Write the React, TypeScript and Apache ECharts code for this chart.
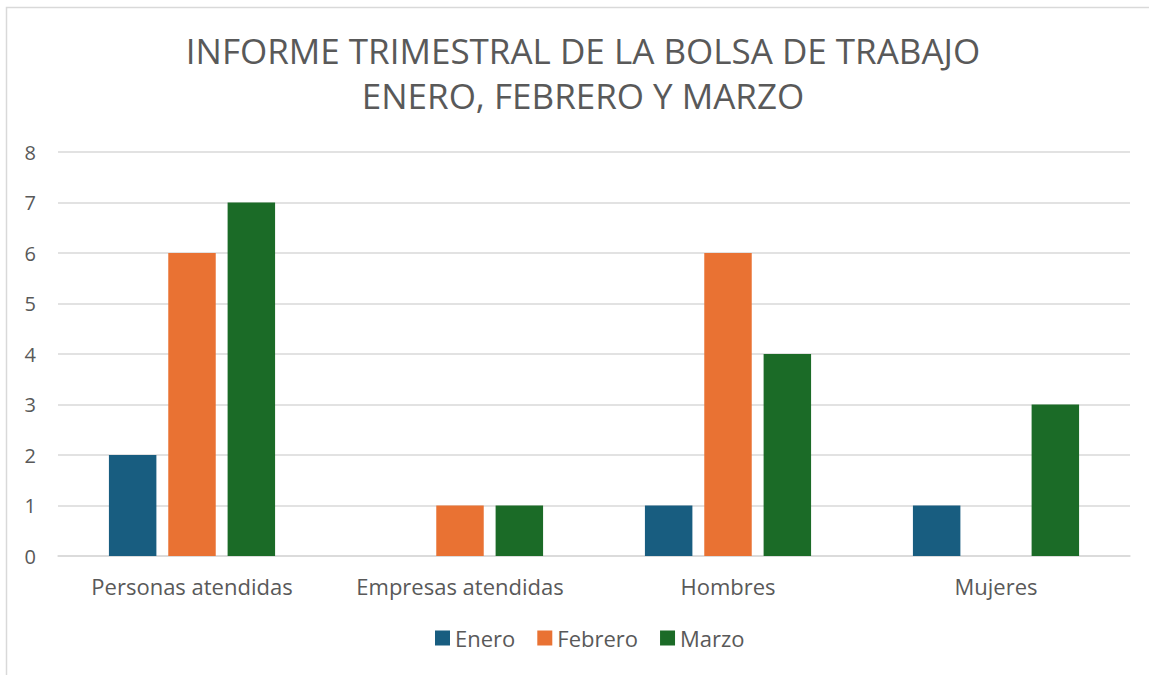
import React, { useEffect, useRef } from "react";
import * as echarts from "echarts";

const categories = ["Personas atendidas", "Empresas atendidas", "Hombres", "Mujeres"];
const seriesNames = ["Enero", "Febrero", "Marzo"];
const enero = [2, null, 1, 1];
const febrero = [6, 1, 6, null];
const marzo = [7, 1, 4, 3];
const colors = ["#185d80", "#e97233", "#1b6b27"];
const yTicks = [0, 1, 2, 3, 4, 5, 6, 7, 8];

export default function App() {
  const ref = useRef<HTMLDivElement>(null);
  useEffect(() => {
    const chart = echarts.init(ref.current!, null, { renderer: "svg" });
    const font = "'Open Sans', sans-serif";
    const values = [enero, febrero, marzo];
    chart.setOption({
      animation: false,
      backgroundColor: "#ffffff",
      textStyle: { fontFamily: font },
      title: {
        text: "INFORME TRIMESTRAL DE LA BOLSA DE TRABAJO\nENERO, FEBRERO Y MARZO",
        left: 578,
        textAlign: "center",
        top: 23,
        textStyle: { fontSize: 35, fontWeight: "normal", color: "#595959", lineHeight: 45, fontFamily: font },
      },
      graphic: [
        {
          type: "rect",
          shape: { x: 6.5, y: 7.5, width: 1200, height: 700 },
          style: { fill: "none", stroke: "#d9d9d9", lineWidth: 1.5 },
          silent: true,
        },
      ],
      legend: {
        bottom: 21,
        left: 430,
        itemWidth: 15,
        itemHeight: 15,
        itemGap: 22,
        icon: "rect",
        textStyle: { fontSize: 22, color: "#595959", fontFamily: font },
        data: seriesNames,
      },
      grid: { left: 58, right: 19, top: 152, bottom: 119, containLabel: false },
      xAxis: {
        type: "category",
        data: categories,
        axisLine: { lineStyle: { color: "#d9d9d9", width: 1.5 } },
        axisTick: { show: false },
        axisLabel: { fontSize: 22, color: "#595959", margin: 19, interval: 0, fontFamily: font },
      },
      yAxis: {
        type: "value",
        min: yTicks[0],
        max: yTicks[yTicks.length - 1],
        interval: 1,
        axisLine: { show: false },
        axisTick: { show: false },
        axisLabel: { fontSize: 20, color: "#595959", margin: 22, fontFamily: font },
        splitLine: { lineStyle: { color: "#d9d9d9", width: 1.5 } },
      },
      series: seriesNames.map((name, i) => ({
        name,
        type: "bar",
        data: values[i],
        barGap: "25%",
        barCategoryGap: "38%",
        itemStyle: { color: colors[i] },
      })),
    });
    return () => chart.dispose();
  }, []);
  return <div ref={ref} style={{ position: "fixed", left: 0, top: 0, width: 1149, height: 675 }} />;
}
